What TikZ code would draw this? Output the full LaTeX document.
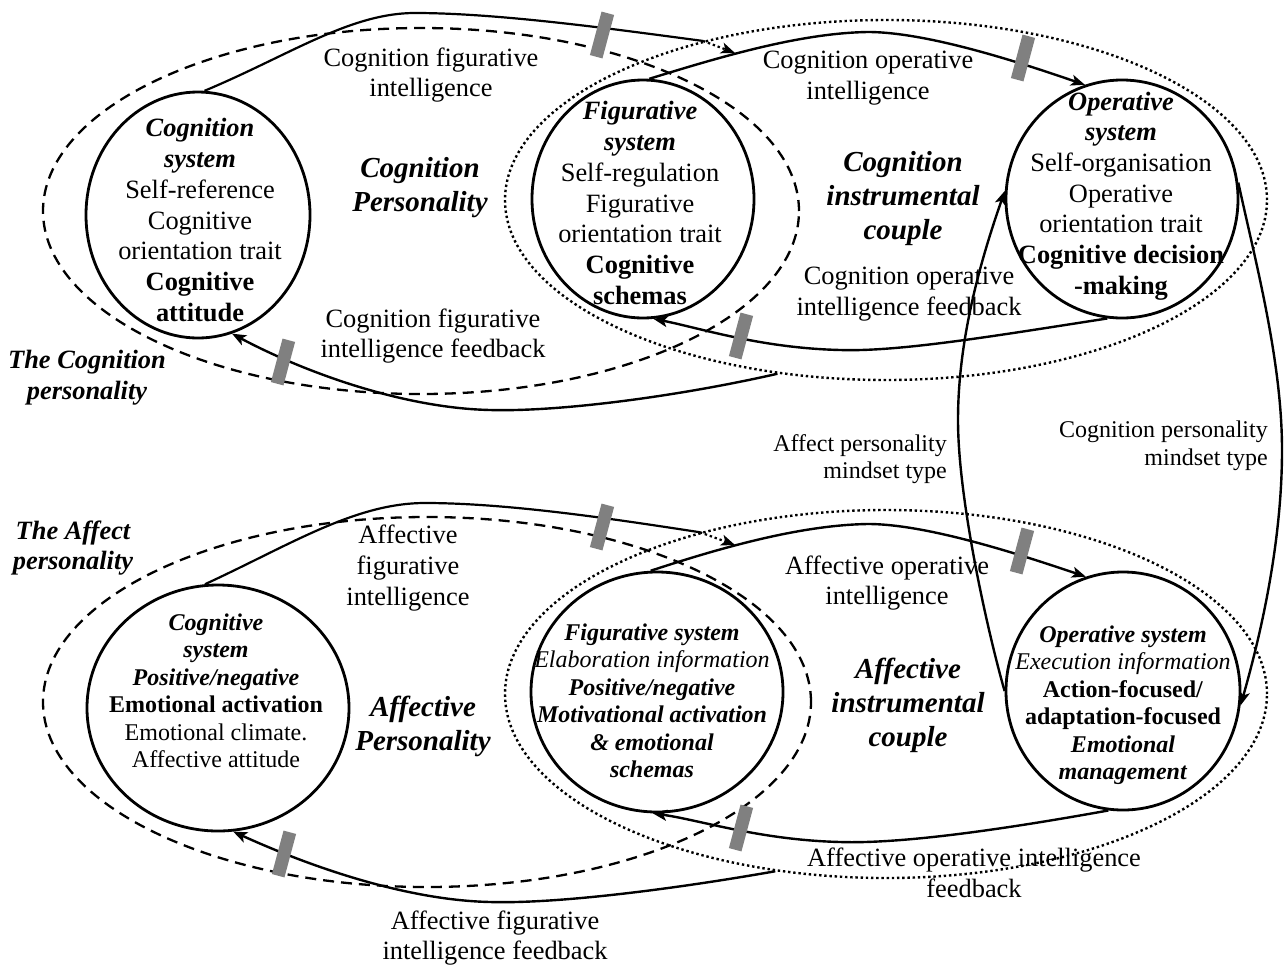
\documentclass[tikz,border=0pt]{standalone}
\usepackage{fontspec}
\setmainfont{Liberation Serif}
\usetikzlibrary{shapes.geometric,arrows.meta}
\definecolor{barcol}{RGB}{128,128,128}
\newcommand\fnorm{\fontsize{26.4pt}{30.7pt}\selectfont}
\newcommand\fsmall{\fontsize{24pt}{27.5pt}\selectfont}
\newcommand\fbig{\fontsize{29pt}{34pt}\selectfont}
\newcommand\bi[1]{\textbf{\textit{#1}}}

\begin{document}
\begin{tikzpicture}[x=1pt,y=-1pt,
  sysell/.style={ellipse, draw, line width=2.8pt, inner sep=0pt},
  persell/.style={ellipse, draw, line width=2.3pt, dash pattern=on 11pt off 7pt, inner sep=0pt},
  coupell/.style={ellipse, draw, line width=2.4pt, dash pattern=on 2.4pt off 2.8pt, inner sep=0pt},
  wire/.style={line width=2.2pt},
  conn/.style={line width=2.4pt, -{Stealth[length=14pt,width=11pt,inset=3.5pt]}},
  dotconn/.style={line width=2.2pt, dash pattern=on 2.4pt off 2.8pt, -{Stealth[length=14pt,width=11pt,inset=3.5pt]}},
  brk/.style={rectangle, fill=barcol, minimum width=13pt, minimum height=45pt, inner sep=0pt, rotate=-15},
  lbl/.style={align=center, font=\fnorm, inner sep=0pt},
  slbl/.style={align=center, font=\fsmall, inner sep=0pt},
  blbl/.style={align=center, font=\fbig\bfseries\itshape, inner sep=0pt},
]
\path[use as bounding box, fill=white] (0,0) rectangle (1285,967);

% ---------- cognition personality (upper half) ----------
\node[persell, minimum width=756pt, minimum height=366pt] (D1) at (421,211) {};
\node[coupell, minimum width=762pt, minimum height=360pt] (P1) at (886,200) {};
\node[sysell, minimum width=224pt, minimum height=246pt] (A1) at (198,215) {};
\node[sysell, minimum width=222pt, minimum height=238pt] (F1) at (643,199) {};
\node[sysell, minimum width=232pt, minimum height=238pt] (O1) at (1122,199) {};

% ---------- affect personality (lower half) ----------
\node[persell, minimum width=768pt, minimum height=370pt] (D2) at (427,702) {};
\node[coupell, minimum width=762pt, minimum height=368pt] (P2) at (886,694) {};
\node[sysell, minimum width=262pt, minimum height=246pt] (A2) at (218,708) {};
\node[sysell, minimum width=252pt, minimum height=240pt] (F2) at (657,692) {};
\node[sysell, minimum width=234pt, minimum height=238pt] (O2) at (1123,691) {};

% ---------- upper connectors ----------
\coordinate (c1e) at (735,53);
\draw[wire] (A1.87) .. controls (290,55) and (350,13) .. (415,13)
  .. controls (500,13) and (620,30) .. (P1.139);
\draw[dotconn] (P1.139) -- (c1e);
\draw[conn] (F1.87) .. controls (720,57) and (800,33) .. (868,32)
  .. controls (930,32) and (1030,66) .. (O1.108);
\draw[conn] (O1.-97) .. controls (1000,335) and (900,352) .. (840,350)
  .. controls (760,348) and (700,328) .. (F1.-85);
\draw[conn] (P1.-122) .. controls (680,396) and (560,412) .. (490,410)
  .. controls (400,408) and (300,370) .. (A1.-74);

% ---------- lower connectors ----------
\coordinate (c5e) at (735,545);
\draw[wire] (A2.96) .. controls (290,545) and (355,503) .. (425,503)
  .. controls (510,503) and (620,520) .. (P2.139);
\draw[dotconn] (P2.139) -- (c5e);
\draw[conn] (F2.93) .. controls (720,548) and (800,525) .. (868,524)
  .. controls (930,524) and (1030,558) .. (O2.108);
\draw[conn] (O2.-97) .. controls (1000,830) and (900,844) .. (840,842)
  .. controls (760,840) and (700,820) .. (F2.-92);
\draw[conn] (P2.-122) .. controls (680,888) and (560,904) .. (490,902)
  .. controls (400,900) and (300,862) .. (A2.-83);

% ---------- mindset connectors ----------
\draw[conn] (O2.180) .. controls (988,633) and (958,500) .. (958,420)
  .. controls (958,340) and (980,262) .. (O1.176);
\draw[conn] (O1.8) .. controls (1255,260) and (1282,360) .. (1282,450)
  .. controls (1282,540) and (1262,630) .. (O2.-7);

% ---------- break marks ----------
\node[brk] (b1) at (602,35) {};
\node[brk] (b2) at (1023,58) {};
\node[brk] (b3) at (741,336) {};
\node[brk] (b4) at (283,362) {};
\node[brk] (b5) at (602,527) {};
\node[brk] (b6) at (1022,551) {};
\node[brk] (b7) at (741,828) {};
\node[brk] (b8) at (284,854) {};

% ---------- system texts ----------
\node[lbl] (A1t) at (200,220) {\bi{Cognition}\\\bi{system}\\Self-reference\\Cognitive\\orientation trait\\\textbf{Cognitive}\\\textbf{attitude}};
\node[lbl] (F1t) at (640,203) {\bi{Figurative}\\\bi{system}\\Self-regulation\\Figurative\\orientation trait\\\textbf{Cognitive}\\\textbf{schemas}};
\node[lbl] (O1t) at (1121,196) {\bi{Operative}\\\bi{system}\\Self-organisation\\Operative\\orientation trait\\\textbf{Cognitive decision}\\\textbf{-making}};

\node[slbl] (A2t) at (216,691) {\bi{Cognitive}\\\bi{system}\\\bi{Positive/negative}\\\textbf{Emotional activation}\\Emotional climate.\\Affective attitude};
\node[slbl] (F2t) at (652,701) {\bi{Figurative system}\\\textit{Elaboration information}\\\bi{Positive/negative}\\\bi{Motivational activation}\\\bi{\& emotional}\\\bi{schemas}};
\node[slbl] (O2t) at (1123,705) {\bi{Operative system}\\\textit{Execution information}\\\textbf{Action-focused/}\\\textbf{adaptation-focused}\\\bi{Emotional}\\\bi{management}};

% ---------- upper labels ----------
\node[lbl] (l1) at (431,75) {Cognition figurative\\intelligence};
\node[lbl] (l2) at (868,78) {Cognition operative\\intelligence};
\node[blbl] (l3) at (420,188) {Cognition\\Personality};
\node[blbl] (l4) at (903,199) {Cognition\\instrumental\\couple};
\node[lbl] (l5) at (909,294) {Cognition operative\\intelligence feedback};
\node[lbl] (l6) at (433,336) {Cognition figurative\\intelligence feedback};
\node[lbl, font=\fnorm\bfseries\itshape] (l7) at (87,378) {The Cognition\\personality};
\node[slbl, align=right, anchor=east] (l8) at (947,459) {Affect personality\\mindset type};
\node[slbl, align=right, anchor=east] (l9) at (1268,446) {Cognition personality\\mindset type};

% ---------- lower labels ----------
\node[lbl, font=\fnorm\bfseries\itshape] (l10) at (73,548) {The Affect\\personality};
\node[lbl] (l11) at (408,568) {Affective\\figurative\\intelligence};
\node[blbl] (l12) at (423,726) {Affective\\Personality};
\node[lbl] (l13) at (887,583) {Affective operative\\intelligence};
\node[blbl] (l14) at (908,705) {Affective\\instrumental\\couple};
\node[lbl] (l15) at (974,873) {Affective operative intelligence\\feedback};
\node[lbl] (l16) at (495,938) {Affective figurative\\intelligence feedback};
\end{tikzpicture}
\end{document}
